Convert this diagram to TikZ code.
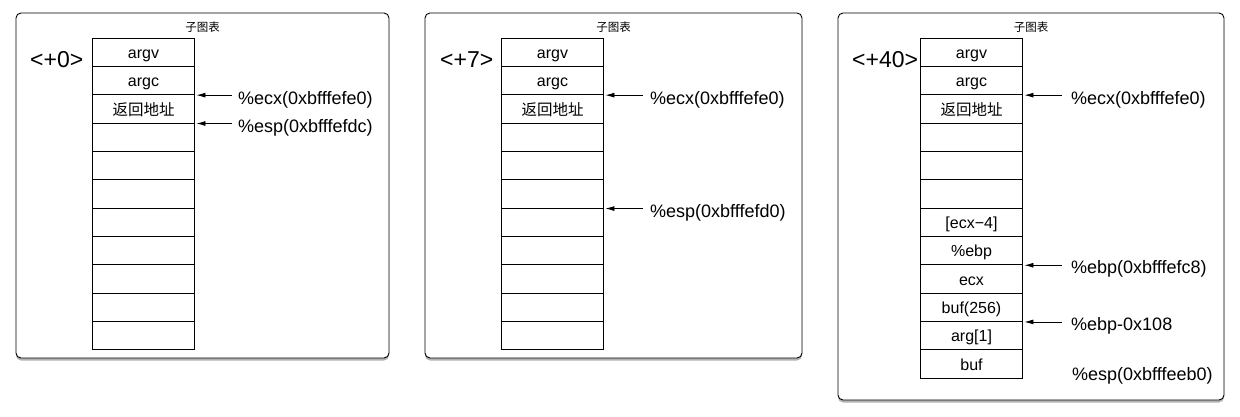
\documentclass[tikz,border=0pt]{standalone}
\usepackage{fontspec}
\setmainfont{Liberation Sans}
\newfontfamily\cjk{Noto Sans CJK SC}
\usetikzlibrary{arrows.meta,shadows}
\begin{document}
\begin{tikzpicture}[x=1pt,y=-1pt,
  frame/.style={draw=black,line width=0.9pt,rounded corners=5pt,fill=white,
    drop shadow={shadow xshift=0pt,shadow yshift=-2.5pt,opacity=0.3,fill=black}},
  cell/.style={draw=black,line width=0.9pt,minimum width=102pt,minimum height=28.35pt,
    inner sep=0pt,text height=13pt,text depth=0.4pt,font=\fontsize{16}{17}\selectfont},
  ttl/.style={font=\cjk\fontsize{11.5}{12}\selectfont,inner sep=0pt},
  offs/.style={font=\fontsize{23}{24}\selectfont,anchor=west,inner sep=0pt},
  lbl/.style={font=\fontsize{18}{20}\selectfont,anchor=west,inner sep=0pt},
  arr/.style={-{Latex[length=9pt,width=5pt]},line width=0.8pt}
]
\useasboundingbox (0,0) rectangle (1240,417);

% frames
\draw[frame] (16,13) rectangle (389,358);
\draw[frame] (425,13) rectangle (802,358);
\draw[frame] (838,13) rectangle (1224,400);

% titles
\node[ttl] (t1) at (202.5,27) {子图表};
\node[ttl] (t2) at (613.5,27) {子图表};
\node[ttl] (t3) at (1031,27) {子图表};

% offsets
\node[offs] (o1) at (30,60) {<+0>};
\node[offs] (o2) at (440,60) {<+7>};
\node[offs] (o3) at (852,60) {<+40>};

% panel 1 stack
\node[cell] (a1) at (143.5,{38+28.35*0.5}) {argv};
\node[cell] (a2) at (143.5,{38+28.35*1.5}) {argc};
\node[cell] (a3) at (143.5,{38+28.35*2.5}) {\cjk\fontsize{15.5}{16}\selectfont 返回地址};
\foreach \i in {4,...,11} \node[cell] (a\i) at (143.5,{38+28.35*(\i-0.5)}) {};

% panel 2 stack
\node[cell] (b1) at (552.5,{38+28.35*0.5}) {argv};
\node[cell] (b2) at (552.5,{38+28.35*1.5}) {argc};
\node[cell] (b3) at (552.5,{38+28.35*2.5}) {\cjk\fontsize{15.5}{16}\selectfont 返回地址};
\foreach \i in {4,...,11} \node[cell] (b\i) at (552.5,{38+28.35*(\i-0.5)}) {};

% panel 3 stack
\node[cell] (c1) at (971.5,{38+28.35*0.5}) {argv};
\node[cell] (c2) at (971.5,{38+28.35*1.5}) {argc};
\node[cell] (c3) at (971.5,{38+28.35*2.5}) {\cjk\fontsize{15.5}{16}\selectfont 返回地址};
\foreach \i in {4,5,6} \node[cell] (c\i) at (971.5,{38+28.35*(\i-0.5)}) {};
\node[cell] (c7) at (971.5,{38+28.35*6.5}) {[ecx−4]};
\node[cell] (c8) at (971.5,{38+28.35*7.5}) {\%ebp};
\node[cell] (c9) at (971.5,{38+28.35*8.5}) {ecx};
\node[cell] (c10) at (971.5,{38+28.35*9.5}) {buf(256)};
\node[cell] (c11) at (971.5,{38+28.35*10.5}) {arg[1]};
\node[cell] (c12) at (971.5,{38+28.35*11.5}) {buf};

% labels panel 1
\node[lbl] (l1) at (238,99.5) {\%ecx(0xbfffefe0)};
\node[lbl] (l2) at (238,128) {\%esp(0xbfffefdc)};
\draw[arr] ([xshift=-6pt]l1.west |- a2.south east) -- ([xshift=1.5pt]a2.south east);
\draw[arr] ([xshift=-6pt]l2.west |- a3.south east) -- ([xshift=1.5pt]a3.south east);

% labels panel 2
\node[lbl] (m1) at (650,99.5) {\%ecx(0xbfffefe0)};
\node[lbl] (m2) at (650,212.5) {\%esp(0xbfffefd0)};
\draw[arr] ([xshift=-7pt]m1.west |- b2.south east) -- ([xshift=1.5pt]b2.south east);
\draw[arr] ([xshift=-7pt]m2.west |- b6.south east) -- ([xshift=1.5pt]b6.south east);

% labels panel 3
\node[lbl] (n1) at (1071,99.5) {\%ecx(0xbfffefe0)};
\node[lbl] (n2) at (1071,269) {\%ebp(0xbfffefc8)};
\node[lbl] (n3) at (1071,325.5) {\%ebp-0x108};
\node[lbl] (n4) at (1072,376) {\%esp(0xbfffeeb0)};
\draw[arr] ([xshift=-9pt]n1.west |- c2.south east) -- ([xshift=1.5pt]c2.south east);
\draw[arr] ([xshift=-9pt]n2.west |- c8.south east) -- ([xshift=1.5pt]c8.south east);
\draw[arr] ([xshift=-9pt]n3.west |- c10.south east) -- ([xshift=1.5pt]c10.south east);
\end{tikzpicture}
\end{document}
